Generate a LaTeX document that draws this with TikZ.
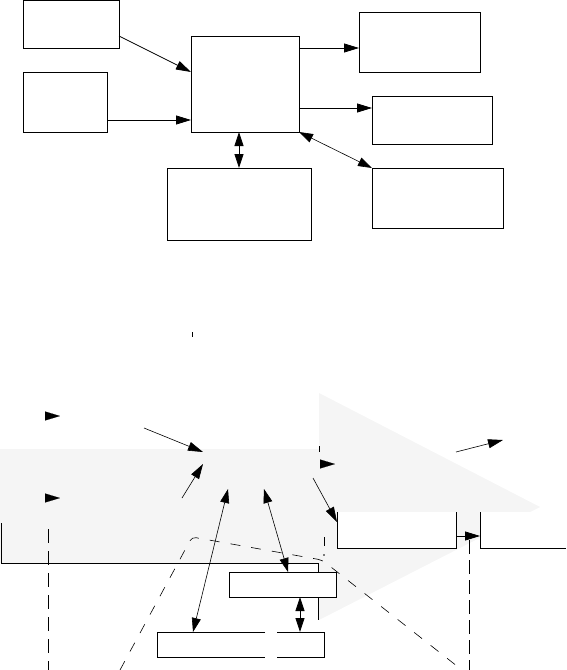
\documentclass[tikz,border=0pt]{standalone}
\usetikzlibrary{arrows.meta}
\definecolor{bggray}{RGB}{245,245,245}
\begin{document}
\begin{tikzpicture}[x=1pt,y=-1pt,
  line width=0.8pt,
  box/.style={draw, fill=white, inner sep=0pt, outer sep=0pt, anchor=north west},
  blank/.style={fill=white, inner sep=0pt, outer sep=0pt, anchor=north west},
  arr/.style={-{Triangle[length=15pt,width=9pt]}},
  darr/.style={{Triangle[length=14pt,width=9pt]}-{Triangle[length=14pt,width=9pt]}},
  thin arr/.style={arr, line width=0.6pt},
  dsh/.style={dash pattern=on 14pt off 8pt},
  dsh2/.style={dash pattern=on 10pt off 11pt, line width=0.6pt},
]
\useasboundingbox (0,0) rectangle (566,670);

% ---------- upper diagram ----------
\node[box, minimum width=96pt, minimum height=48pt] (A) at (23,0.5) {};
\node[box, minimum width=84pt, minimum height=60pt] (B) at (23,72) {};
\node[box, minimum width=108pt, minimum height=96pt] (C) at (191,36) {};
\node[box, minimum width=144pt, minimum height=72pt] (D) at (167,168) {};
\node[box, minimum width=121pt, minimum height=60pt] (E) at (359,12) {};
\node[box, minimum width=120pt, minimum height=48pt] (F) at (372,96) {};
\node[box, minimum width=131pt, minimum height=60pt] (G) at (372,168) {};

\draw[arr] (A.east |- 0,36) -- (C.west |- 0,72);
\draw[arr] (B.east |- 0,120) -- (C.west |- 0,120);
\draw[darr] (C.south -| 239,0) -- (D.north -| 239,0);
\draw[arr] (C.east |- 0,48) -- (E.west |- 0,48);
\draw[arr] (C.east |- 0,108) -- (F.west |- 0,108);
\draw[darr, line width=0.6pt] (C.south east) -- (G.north west);

% ---------- lower diagram ----------
\draw (192,332) -- (192,337);

% light grey block arrow
\fill[bggray] (0,449) -- (319,449) -- (319,393) -- (540,507) -- (319,620)
  -- (319,563) -- (0,563) -- cycle;
\draw (1,523) -- (1,563) -- (318,563) -- (318,620);
\draw (319,446) -- (319,452);

% boxes
\node[blank, minimum width=119pt, minimum height=36pt] (H) at (337,512) {};
\draw (H.north west) -- (H.south west) -- (H.south east) -- (H.north east);
\node[blank, minimum width=86pt, minimum height=36pt] (I) at (480,512) {};
\draw (I.north west) -- (I.south west) -- (I.south east);
\node[box, minimum width=107pt, minimum height=25pt] (J) at (229,572) {};
\node[blank, minimum width=167pt, minimum height=25pt] (K) at (157,632) {};
\draw (K.north west -| 265,0) -- (K.north west) -- (K.south west) -- (K.south west -| 265,0);
\draw (K.north east -| 277,0) -- (K.north east) -- (K.south east) -- (K.south east -| 277,0);

% free ends
\coordinate (h1) at (45,416);
\coordinate (h1t) at (60,416);
\coordinate (h2) at (45,498);
\coordinate (h2t) at (60,498);
\coordinate (a1) at (144,428);
\coordinate (a1t) at (203,452);
\coordinate (a2) at (182,498);
\coordinate (a2t) at (203,464);
\coordinate (u1) at (228,489);
\coordinate (u2) at (264,489);
\coordinate (h3) at (320,464);
\coordinate (h3t) at (335,464);
\coordinate (a3) at (313,478);
\coordinate (a4) at (456,452);
\coordinate (a4t) at (503,440);

\draw[arr, line width=0.1pt] (h1) -- (h1t);
\draw[arr, line width=0.1pt] (h2) -- (h2t);
\draw[thin arr] (a1) -- (a1t);
\draw[thin arr] (a2) -- (a2t);
\draw[darr, line width=0.6pt] (K.north -| 193,0) -- (u1);
\draw[darr, line width=0.6pt] (J.north -| 288,0) -- (u2);
\draw[arr, line width=0.1pt] (h3) -- (h3t);
\draw[thin arr] (a3) -- (H.west |- 0,522);
\draw[thin arr] (a4) -- (a4t);
\draw[arr] (H.east |- 0,536) -- (I.west |- 0,536);
\draw[darr] (J.south -| 300,0) -- (K.north -| 300,0);

% dashed lines
\draw[dsh] (48,529) -- (48,670);
\draw[dsh, dash pattern=on 14pt off 6pt] (469,540) -- (469,670);
\draw[dsh2, rounded corners=4pt] (120,670) -- (192,537) -- (322,560) -- (462,670);
\draw[dash pattern=on 9pt off 9pt] (324,537) -- (324,546);
\fill (324,555) circle (0.8pt);
\end{tikzpicture}
\end{document}
